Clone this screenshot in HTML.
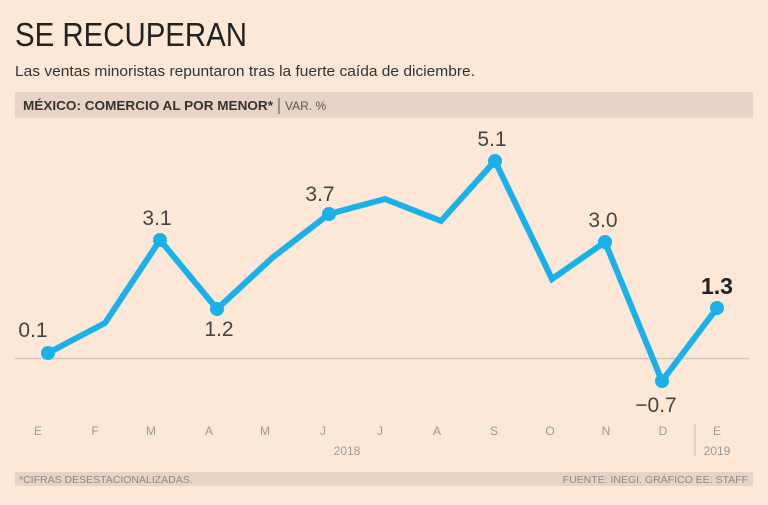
<!DOCTYPE html>
<html><head><meta charset="utf-8"><style>
body{margin:0;background:#fde8d8;}
svg{display:block;font-family:"Liberation Sans",sans-serif;}
</style></head><body>
<svg width="768" height="505" viewBox="0 0 768 505">
<rect width="768" height="505" fill="#fde8d8"/>
<text x="15" y="46" font-size="33" fill="#222" textLength="232" lengthAdjust="spacingAndGlyphs">SE RECUPERAN</text>
<text x="15" y="76" font-size="15" fill="#333" textLength="460" lengthAdjust="spacingAndGlyphs">Las ventas minoristas repuntaron tras la fuerte caída de diciembre.</text>
<rect x="15" y="92" width="738" height="26" fill="#e8d4c6"/>
<text x="23" y="110" font-size="12.5" font-weight="bold" fill="#333" textLength="250" lengthAdjust="spacingAndGlyphs">MÉXICO: COMERCIO AL POR MENOR*</text>
<line x1="279" y1="98" x2="279" y2="114" stroke="#555" stroke-width="1"/>
<text x="285" y="110" font-size="12" fill="#555">VAR. %</text>
<line x1="15" y1="358.5" x2="749" y2="358.5" stroke="#d8c3b4" stroke-width="1.5"/>
<polyline fill="none" stroke="#1ab0ea" stroke-width="6" stroke-linejoin="miter" points="48,353 105,323 160,240 217,309 272,258 329,214 385,199 441,221 495,161 552,279 605,242 662,381 717,308"/>
<g fill="#1ab0ea">
<circle cx="48" cy="353" r="7"/><circle cx="160" cy="240" r="7"/><circle cx="217" cy="309" r="7"/><circle cx="329" cy="214" r="7"/><circle cx="495" cy="161" r="7"/><circle cx="605" cy="242" r="7"/><circle cx="662" cy="381" r="7"/><circle cx="717" cy="308" r="7"/>
</g>
<g font-size="21" fill="#444" text-anchor="middle">
<text x="33" y="337">0.1</text>
<text x="157" y="225">3.1</text>
<text x="219" y="336">1.2</text>
<text x="320" y="201">3.7</text>
<text x="492" y="146">5.1</text>
<text x="603" y="227">3.0</text>
<text x="656" y="412">−0.7</text>
<text x="717" y="294" font-weight="bold" font-size="23" fill="#222">1.3</text>
</g>
<g font-size="12" fill="#999" text-anchor="middle">
<text x="38" y="435">E</text><text x="95" y="435">F</text><text x="151" y="435">M</text><text x="209" y="435">A</text><text x="265" y="435">M</text><text x="323" y="435">J</text><text x="380" y="435">J</text><text x="437" y="435">A</text><text x="494" y="435">S</text><text x="550" y="435">O</text><text x="606" y="435">N</text><text x="663" y="435">D</text><text x="717" y="435">E</text>
<text x="347" y="455">2018</text><text x="717" y="455">2019</text>
</g>
<line x1="695" y1="424" x2="695" y2="456" stroke="#bbb" stroke-width="1"/>
<rect x="15" y="472" width="738" height="14" fill="#e8d4c6"/>
<text x="19" y="483" font-size="10.5" fill="#888">*CIFRAS DESESTACIONALIZADAS.</text>
<text x="748" y="483" font-size="10.5" fill="#888" text-anchor="end">FUENTE: INEGI. GRÁFICO EE: STAFF</text>
</svg>
</body></html>
